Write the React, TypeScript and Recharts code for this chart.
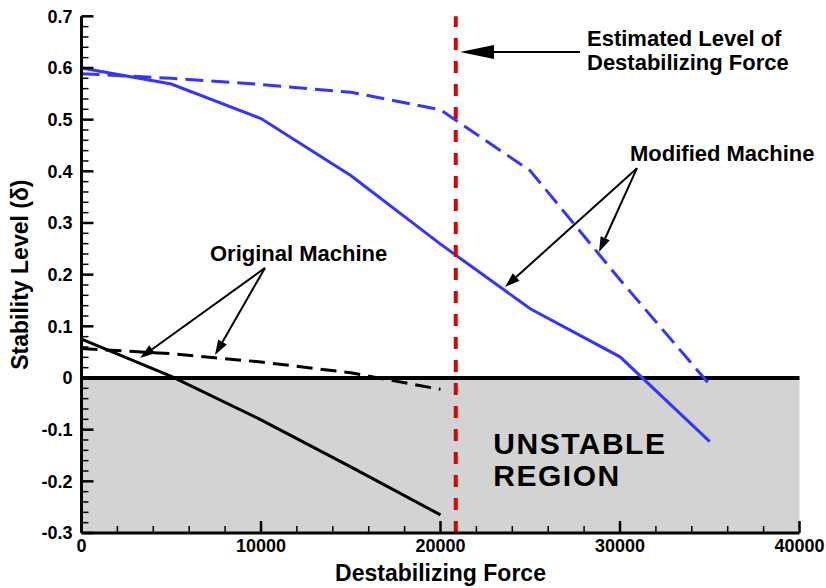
import { ComposedChart, Line, XAxis, YAxis, ReferenceArea, ReferenceLine, ReferenceDot } from 'recharts';

// --- data ---
const MODIFIED_FORCE = [0, 5000, 10000, 15000, 20000, 25000, 30000, 35000];
const MODIFIED_SOLID = [0.6, 0.569, 0.502, 0.392, 0.259, 0.134, 0.041, -0.123];
const MODIFIED_DASHED = [0.589, 0.58, 0.568, 0.553, 0.519, 0.401, 0.19, -0.013];

const ORIGINAL_FORCE = [0, 5000, 10000, 15000, 20000];
const ORIGINAL_SOLID = [0.075, 0.003, -0.081, -0.172, -0.265];
const ORIGINAL_DASHED = [0.057, 0.047, 0.031, 0.01, -0.022];

const ESTIMATED_FORCE = 20850;

const X_MAJOR = [0, 10000, 20000, 30000, 40000];
const Y_MAJOR = [-0.3, -0.2, -0.1, 0, 0.1, 0.2, 0.3, 0.4, 0.5, 0.6, 0.7];
const X_MINOR_STEP = 2000;
const Y_MINOR_STEP = 0.02;

const FONT = '"Liberation Sans", Arial, Helvetica, sans-serif';
const BLUE = '#3535ff';
const RED = '#dd0000';

const pairs = (xs: number[], ys: number[]) => xs.map((x, i) => ({ x, y: ys[i] }));

const modifiedSolid = pairs(MODIFIED_FORCE, MODIFIED_SOLID);
const modifiedDashed = pairs(MODIFIED_FORCE, MODIFIED_DASHED);
const originalSolid = pairs(ORIGINAL_FORCE, ORIGINAL_SOLID);
const originalDashed = pairs(ORIGINAL_FORCE, ORIGINAL_DASHED);

// minor ticks between the labelled ones
const xTicks: number[] = [];
for (let v = X_MAJOR[0]; v <= X_MAJOR[X_MAJOR.length - 1]; v += X_MINOR_STEP) xTicks.push(v);
const yTicks: number[] = [];
for (let i = 0; i <= 50; i++) yTicks.push(Math.round((Y_MAJOR[0] + i * Y_MINOR_STEP) * 100) / 100);

const isMajorX = (v: number) => X_MAJOR.includes(v);
const isMajorY = (v: number) => Y_MAJOR.some((m) => Math.abs(m - v) < 1e-6);

const XTick = (props: any) => {
  const { x, y, payload } = props;
  const major = isMajorX(payload.value);
  return (
    <g>
      <line x1={x} x2={x} y1={y} y2={y - (major ? 12 : 7)} stroke="#000" strokeWidth={major ? 2.5 : 1.5} />
      {major && (
        <text x={x} y={y + 18.5} textAnchor="middle" fontFamily={FONT} fontWeight="bold" fontSize={18} fill="#000">
          {payload.value}
        </text>
      )}
    </g>
  );
};

const YTick = (props: any) => {
  const { x, y, payload } = props;
  const major = isMajorY(payload.value);
  return (
    <g>
      <line x1={x} x2={x + (major ? 12 : 7)} y1={y} y2={y} stroke="#000" strokeWidth={major ? 2.5 : 1.5} />
      {major && (
        <text x={x - 9} y={y + 6.4} textAnchor="end" fontFamily={FONT} fontWeight="bold" fontSize={18} fill="#000">
          {payload.value}
        </text>
      )}
    </g>
  );
};

const arrowShape = (head: number, half: number) => (props: any) => {
  const { x1, y1, x2, y2 } = props;
  const dx = x2 - x1;
  const dy = y2 - y1;
  const len = Math.sqrt(dx * dx + dy * dy) || 1;
  const ux = dx / len;
  const uy = dy / len;
  const bx = x2 - ux * head;
  const by = y2 - uy * head;
  const pts = `${x2},${y2} ${bx - uy * half},${by + ux * half} ${bx + uy * half},${by - ux * half}`;
  return (
    <g>
      <line x1={x1} y1={y1} x2={bx} y2={by} stroke="#000" strokeWidth={2} />
      <polygon points={pts} fill="#000" />
    </g>
  );
};

const textShape = (lines: string[], size: number, gap: number, spacing = 0) => (props: any) => {
  const { cx, cy } = props;
  return (
    <text x={cx} y={cy} fontFamily={FONT} fontWeight="bold" fontSize={size} fill="#000" letterSpacing={spacing}>
      {lines.map((l, i) => (
        <tspan key={l} x={cx} y={cy + size * 0.36 + i * gap}>
          {l}
        </tspan>
      ))}
    </text>
  );
};

const smallArrow = arrowShape(15, 5);
const bigArrow = arrowShape(34, 7);

export default function App() {
  return (
    <div style={{ width: 826, height: 588, background: '#fff' }}>
      <style>{'body{margin:0}'}</style>
      <ComposedChart width={826} height={588} margin={{ top: 16.3, right: 26.5, bottom: 0, left: 0 }}>
        <XAxis
          dataKey="x"
          type="number"
          domain={[0, 40000]}
          ticks={xTicks}
          interval={0}
          height={55}
          tickSize={0}
          tickMargin={0}
          tickLine={false}
          tick={<XTick />}
          axisLine={{ stroke: '#000', strokeWidth: 3 }}
          label={{ value: 'Destabilizing Force', position: 'insideBottom', offset: 7, style: { fontFamily: FONT, fontWeight: 'bold', fontSize: 23, fill: '#000' } }}
        />
        <YAxis
          dataKey="y"
          type="number"
          domain={[-0.3, 0.7]}
          ticks={yTicks}
          interval={0}
          width={81.5}
          tickSize={0}
          tickMargin={0}
          tickLine={false}
          tick={<YTick />}
          axisLine={{ stroke: '#000', strokeWidth: 3 }}
          label={{ value: 'Stability Level (δ)', angle: -90, position: 'insideLeft', offset: 20, style: { textAnchor: 'middle', fontFamily: FONT, fontWeight: 'bold', fontSize: 23, fill: '#000' } }}
        />
        <ReferenceArea x1={0} x2={40000} y1={-0.3} y2={0} fill="#d3d3d3" fillOpacity={1} stroke="none" />
        <ReferenceLine y={0} stroke="#000" strokeWidth={4} />

        <Line data={originalSolid} dataKey="y" stroke="#000" strokeWidth={3} dot={false} isAnimationActive={false} />
        <Line data={originalDashed} dataKey="y" stroke="#000" strokeWidth={3} strokeDasharray="16 8" dot={false} isAnimationActive={false} />
        <Line data={modifiedSolid} dataKey="y" stroke={BLUE} strokeWidth={3} dot={false} isAnimationActive={false} />
        <Line data={modifiedDashed} dataKey="y" stroke={BLUE} strokeWidth={3} strokeDasharray="18 8" dot={false} isAnimationActive={false} />

        <ReferenceLine x={ESTIMATED_FORCE} stroke={RED} strokeWidth={4} strokeDasharray="12 11" />

        {/* annotations */}
        <ReferenceLine segment={[{ x: 27772, y: 0.631 }, { x: 21086, y: 0.631 }]} shape={bigArrow} />
        <ReferenceLine segment={[{ x: 30947, y: 0.406 }, { x: 23593, y: 0.176 }]} shape={smallArrow} />
        <ReferenceLine segment={[{ x: 30947, y: 0.406 }, { x: 28830, y: 0.244 }]} shape={smallArrow} />
        <ReferenceLine segment={[{ x: 10223, y: 0.213 }, { x: 3259, y: 0.0387 }]} shape={smallArrow} />
        <ReferenceLine segment={[{ x: 10223, y: 0.213 }, { x: 7437, y: 0.0445 }]} shape={smallArrow} />

        <ReferenceDot x={28162} y={0.658} r={0} shape={textShape(['Estimated Level of', 'Destabilizing Force'], 22, 24)} />
        <ReferenceDot x={30557} y={0.435} r={0} shape={textShape(['Modified Machine'], 22, 0)} />
        <ReferenceDot x={7159} y={0.242} r={0} shape={textShape(['Original Machine'], 22, 0)} />
        <ReferenceDot x={22942} y={-0.126} r={0} shape={textShape(['UNSTABLE', 'REGION'], 30, 32, 1.5)} />
      </ComposedChart>
    </div>
  );
}
